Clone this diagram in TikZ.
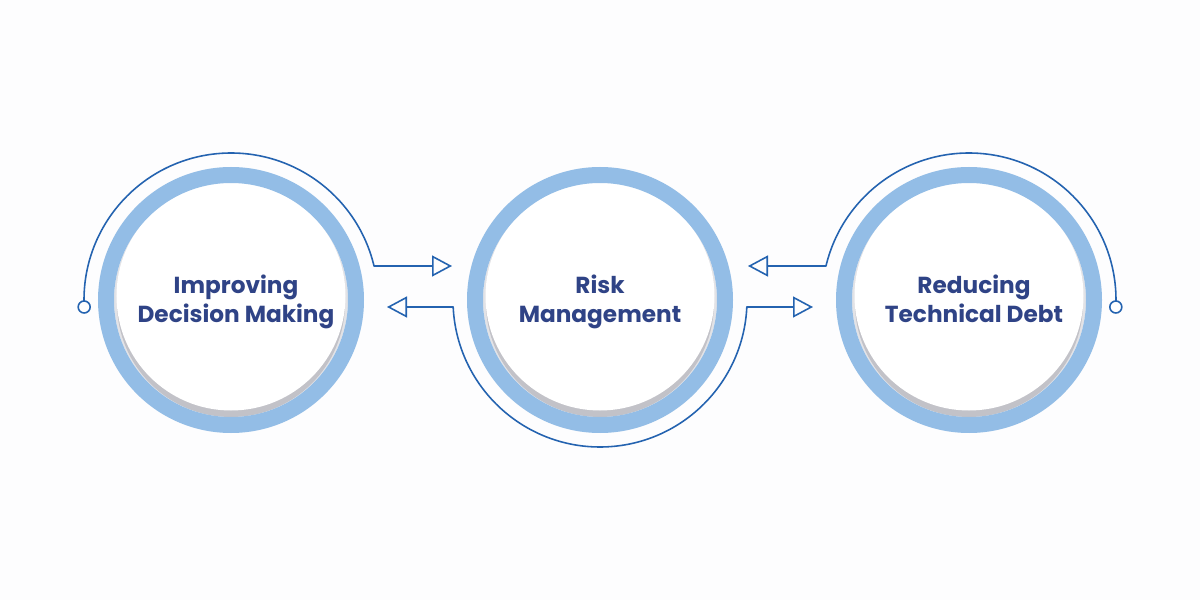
\documentclass[tikz,border=0pt]{standalone}
\usepackage{fontspec}
\setmainfont{Poppins}
\usepackage{xcolor}
\usepackage{tikz}
\usetikzlibrary{calc,arrows.meta,positioning}
\definecolor{bg}{HTML}{FDFDFE}
\definecolor{ringblue}{HTML}{93BDE6}
\definecolor{lineblue}{HTML}{2463B0}
\definecolor{navy}{HTML}{2F4386}
\definecolor{shadow}{HTML}{C2C2C8}
\tikzset{
  ring/.style={circle, minimum size=2.5cm, inner sep=0pt, draw=ringblue, line width=0.16cm,
    path picture={
      \fill[shadow!45] (path picture bounding box.center) circle (1.17);
      \fill[shadow] ([yshift=-0.03cm]path picture bounding box.center) circle (1.14);
      \fill[white] ([yshift=0.04cm]path picture bounding box.center) circle (1.145);
    }},
  flow/.style={draw=lineblue, line width=0.45pt, line cap=round, line join=round},
  tip/.style={-{Triangle[open, length=0.2cm, width=0.21cm, line width=0.45pt]}},
  dot/.style={circle, draw=lineblue, fill=white, line width=0.45pt, minimum size=0.12cm, inner sep=0pt},
  lab/.style={text=navy, font=\fontsize{6.6}{8.4}\selectfont\bfseries, align=center},
}
\begin{document}
\begin{tikzpicture}
\fill[bg] (0,0) rectangle (12,6);
\useasboundingbox (0,0) rectangle (12,6);

\node[ring] (imp) at (2.31,3) {};
\node[ring] (risk) at (6.00,3) {};
\node[ring] (debt) at (9.69,3) {};

\node[lab] (imptxt) at ([xshift=0.05cm, yshift=-0.02cm]imp) {Improving\\Decision Making};
\node[lab] (risktxt) at ([yshift=-0.02cm]risk) {Risk\\Management};
\node[lab] (debttxt) at ([xshift=0.05cm, yshift=0.01cm]debt) {Reducing\\Technical Debt};

% arc ends and arrow tips
\coordinate (impdot) at ($(imp)+(182.73:1.47)$);
\coordinate (debtdot) at ($(debt)+(-2.73:1.47)$);
\coordinate (tipa) at (4.52,3.34);
\coordinate (tipb) at (3.87,2.93);
\coordinate (tipc) at (8.13,2.93);
\coordinate (tipd) at (7.48,3.34);

\draw[flow, tip] (impdot) arc[start angle=182.73, end angle=13.37, radius=1.47] -- (tipa);
\draw[flow, tip] ($(risk)+(182.73:1.47)$) -- (tipb);
\draw[flow, tip] ($(risk)+(357.27:1.47)$) -- (tipc);
\draw[flow] ($(risk)+(182.73:1.47)$) arc[start angle=182.73, end angle=357.27, radius=1.47];
\draw[flow, tip] (debtdot) arc[start angle=-2.73, end angle=166.63, radius=1.47] -- (tipd);

\node[dot] at (impdot) {};
\node[dot] at (debtdot) {};
\end{tikzpicture}
\end{document}
